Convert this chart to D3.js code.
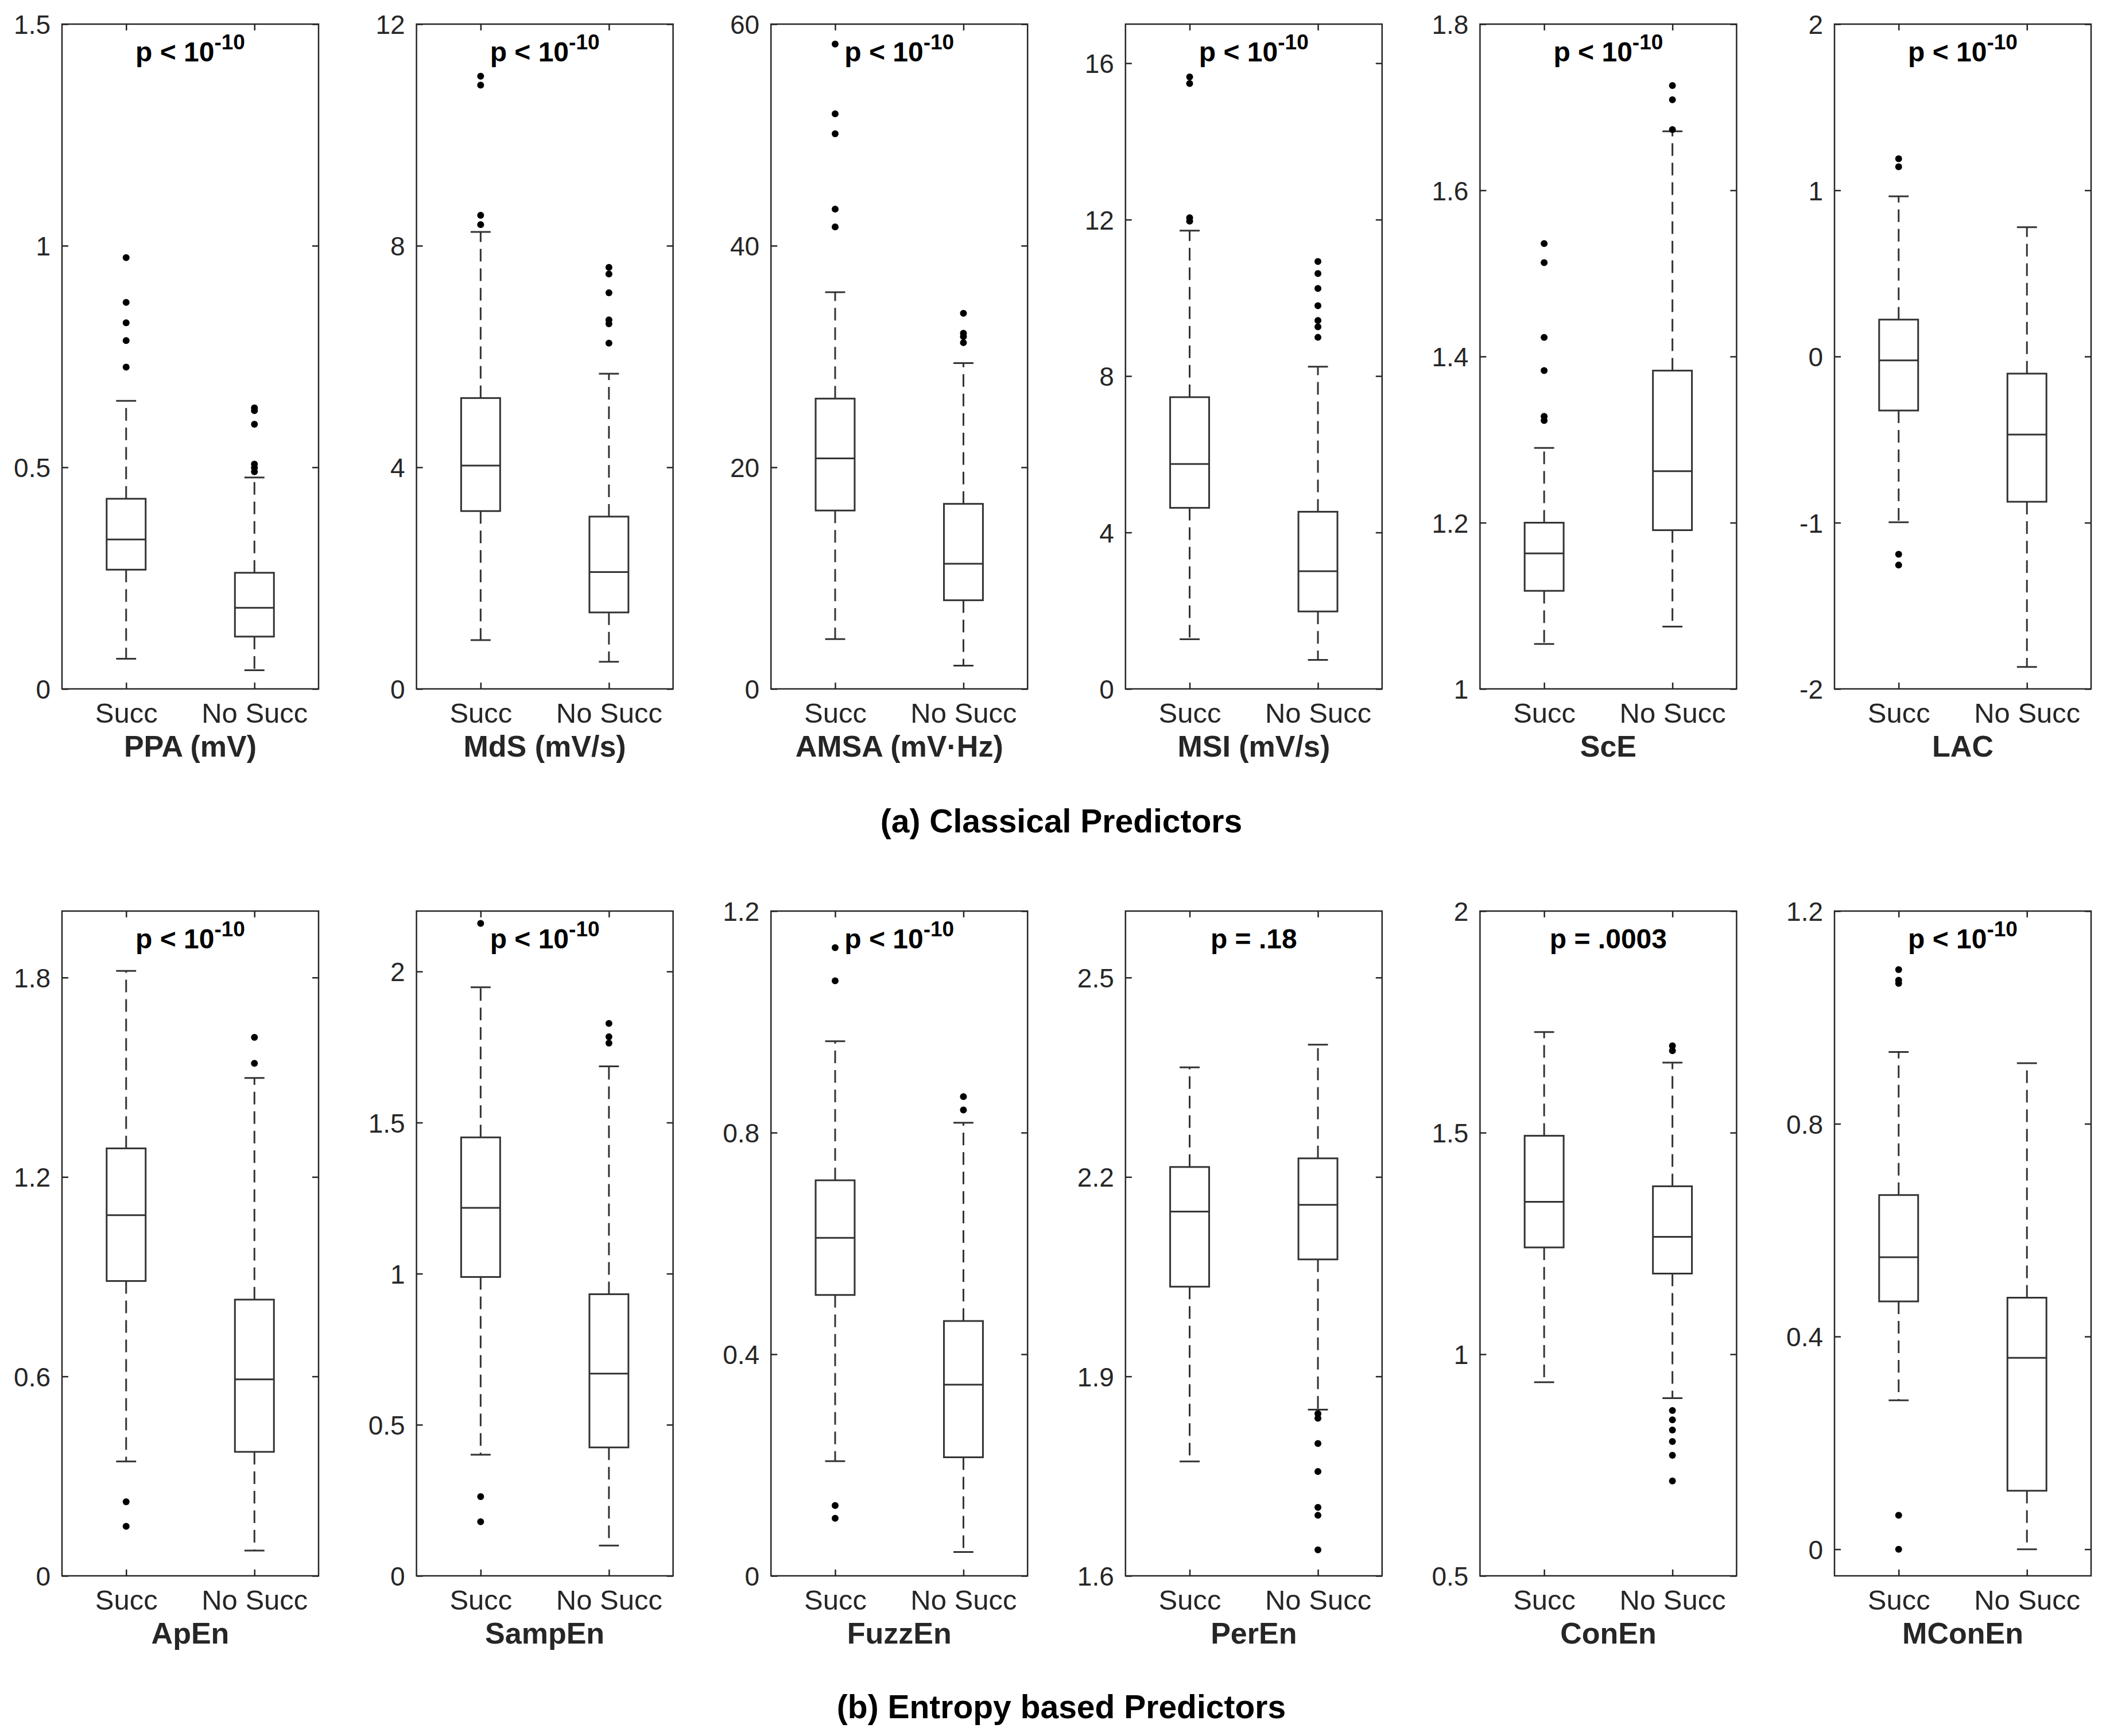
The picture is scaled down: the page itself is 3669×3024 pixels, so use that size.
<!DOCTYPE html>
<html>
<head>
<meta charset="utf-8">
<script src="https://cdn.jsdelivr.net/npm/d3@7"></script>
<style>
  body { margin: 0; background: #fff; }
  svg { display: block; font-family: "Liberation Sans", Arial, Helvetica, sans-serif; }
</style>
</head>
<body>
<div id="chart"></div>
<script>
// --- data ---
var predictors = ["PPA (mV)", "MdS (mV/s)", "AMSA (mV\u00b7Hz)", "MSI (mV/s)", "ScE", "LAC",
                  "ApEn", "SampEn", "FuzzEn", "PerEn", "ConEn", "MConEn"];
var groups = ["Succ", "No Succ"];
var sections = ["(a) Classical Predictors", "(b) Entropy based Predictors"];

var pMain = ["p < 10", "p < 10", "p < 10", "p < 10", "p < 10", "p < 10",
             "p < 10", "p < 10", "p < 10", "p = .18", "p = .0003", "p < 10"];
var pSup  = ["-10", "-10", "-10", "-10", "-10", "-10",
             "-10", "-10", "-10", "", "", "-10"];

var yDomains = [[0, 1.5], [0, 12], [0, 60], [0, 17], [1, 1.8], [-2, 2],
                [0, 2], [0, 2.2], [0, 1.2], [1.6, 2.6], [0.5, 2], [-0.05, 1.2]];
var yTicks = [[0, 0.5, 1, 1.5], [0, 4, 8, 12], [0, 20, 40, 60], [0, 4, 8, 12, 16],
              [1, 1.2, 1.4, 1.6, 1.8], [-2, -1, 0, 1, 2],
              [0, 0.6, 1.2, 1.8], [0, 0.5, 1, 1.5, 2], [0, 0.4, 0.8, 1.2],
              [1.6, 1.9, 2.2, 2.5], [0.5, 1, 1.5, 2], [0, 0.4, 0.8, 1.2]];

// [Succ, No Succ] for each predictor
var lowerWhisker = [[0.068, 0.042], [0.88, 0.49], [4.5, 2.1], [1.27, 0.74], [1.054, 1.075], [-0.997, -1.868],
                    [0.344, 0.076], [0.401, 0.100], [0.207, 0.043], [1.772, 1.850], [0.937, 0.901], [0.280, 0.0]];
var q1 = [[0.269, 0.118], [3.21, 1.38], [16.1, 8.0], [4.63, 1.98], [1.118, 1.191], [-0.325, -0.874],
          [0.887, 0.373], [0.989, 0.425], [0.507, 0.214], [2.035, 2.076], [1.241, 1.182], [0.466, 0.110]];
var medians = [[0.337, 0.183], [4.03, 2.11], [20.8, 11.3], [5.75, 3.01], [1.163, 1.262], [-0.023, -0.47],
               [1.085, 0.591], [1.218, 0.669], [0.610, 0.345], [2.148, 2.158], [1.344, 1.265], [0.549, 0.360]];
var q3 = [[0.429, 0.262], [5.25, 3.11], [26.2, 16.7], [7.46, 4.53], [1.200, 1.383], [0.222, -0.103],
          [1.286, 0.831], [1.451, 0.932], [0.714, 0.460], [2.215, 2.228], [1.493, 1.379], [0.666, 0.473]];
var upperWhisker = [[0.650, 0.477], [8.25, 5.69], [35.8, 29.4], [11.72, 8.24], [1.290, 1.671], [0.964, 0.778],
                    [1.820, 1.498], [1.948, 1.686], [0.965, 0.818], [2.365, 2.399], [1.727, 1.658], [0.935, 0.914]];
var outliers = [
  [[0.973, 0.872, 0.826, 0.786, 0.726], [0.634, 0.628, 0.597, 0.507, 0.499, 0.490]],
  [[11.06, 10.9, 8.55, 8.38], [7.61, 7.49, 7.15, 6.66, 6.59, 6.24]],
  [[58.2, 51.9, 50.1, 43.3, 41.7], [33.9, 32.1, 31.8, 31.25]],
  [[15.65, 15.48, 12.05, 11.96], [10.93, 10.62, 10.24, 9.80, 9.42, 9.26, 8.99]],
  [[1.536, 1.513, 1.423, 1.383, 1.328, 1.323], [1.726, 1.709, 1.673]],
  [[1.19, 1.142, -1.19, -1.255], []],
  [[0.223, 0.149], [1.620, 1.542]],
  [[2.159, 0.262, 0.179], [1.828, 1.784, 1.763]],
  [[1.134, 1.074, 0.127, 0.104], [0.865, 0.841]],
  [[], [1.844, 1.837, 1.799, 1.757, 1.703, 1.691, 1.639]],
  [[], [1.696, 1.685, 0.873, 0.852, 0.829, 0.803, 0.772, 0.714]],
  [[1.090, 1.070, 1.064, 0.064, 0.0], []]
];

// --- layout ---
var W = 3669, H = 3024;
var panelW = 447, panelH = 1158;
var left0 = 108, step = 617.6;
var rowTop = [42, 1587];
var axisColor = "#262626";
var boxHalf = 0.152, capHalf = 0.078;

var svg = d3.select("#chart").append("svg")
    .attr("width", W)
    .attr("height", H);

svg.append("rect").attr("width", W).attr("height", H).attr("fill", "#fff");

var x = d3.scaleLinear().domain([0.5, 2.5]).range([0, panelW]);

predictors.forEach(function(name, i) {
  var row = Math.floor(i / 6), col = i % 6;
  var g = svg.append("g")
      .attr("transform", "translate(" + (left0 + col * step) + "," + rowTop[row] + ")");

  var y = d3.scaleLinear().domain(yDomains[i]).range([panelH, 0]);
  var fmt = function(d) { return String(d); };

  // axes with inward ticks
  var yl = g.append("g").call(d3.axisLeft(y).tickValues(yTicks[i]).tickFormat(fmt)
      .tickSizeInner(-11).tickSizeOuter(0).tickPadding(20));
  var yr = g.append("g").attr("transform", "translate(" + panelW + ",0)")
      .call(d3.axisRight(y).tickValues(yTicks[i]).tickFormat("").tickSizeInner(-11).tickSizeOuter(0));
  var xb = g.append("g").attr("transform", "translate(0," + panelH + ")")
      .call(d3.axisBottom(x).tickValues([1, 2]).tickFormat(function(d) { return groups[d - 1]; })
      .tickSizeInner(-11).tickSizeOuter(0).tickPadding(24));
  var xt = g.append("g")
      .call(d3.axisTop(x).tickValues([1, 2]).tickFormat("").tickSizeInner(-11).tickSizeOuter(0));

  [yl, yr, xb, xt].forEach(function(a) {
    a.select(".domain").remove();
    a.selectAll("line").attr("stroke", axisColor).attr("stroke-width", 2.5);
  });
  yl.selectAll("text").attr("dy", "0.36em").style("font-size", "46px").attr("fill", axisColor);
  xb.selectAll("text").style("font-size", "49px").attr("fill", axisColor);

  g.append("rect")
      .attr("width", panelW).attr("height", panelH)
      .attr("fill", "none").attr("stroke", axisColor).attr("stroke-width", 2.5);

  // boxes
  groups.forEach(function(grp, j) {
    var cx = x(j + 1);
    var bw = x(1 + boxHalf) - x(1), cw = x(1 + capHalf) - x(1);
    var b = g.append("g").attr("stroke", "#333").attr("stroke-width", 3).attr("fill", "none");

    b.append("line").attr("x1", cx).attr("x2", cx)
        .attr("y1", y(q3[i][j])).attr("y2", y(upperWhisker[i][j]))
        .attr("stroke-dasharray", "22,12");
    b.append("line").attr("x1", cx).attr("x2", cx)
        .attr("y1", y(q1[i][j])).attr("y2", y(lowerWhisker[i][j]))
        .attr("stroke-dasharray", "22,12");
    [upperWhisker[i][j], lowerWhisker[i][j]].forEach(function(v) {
      b.append("line").attr("x1", cx - cw).attr("x2", cx + cw)
          .attr("y1", y(v)).attr("y2", y(v));
    });
    b.append("rect")
        .attr("x", cx - bw).attr("width", 2 * bw)
        .attr("y", y(q3[i][j])).attr("height", y(q1[i][j]) - y(q3[i][j]));
    b.append("line").attr("x1", cx - bw).attr("x2", cx + bw)
        .attr("y1", y(medians[i][j])).attr("y2", y(medians[i][j]));

    g.selectAll(null)
        .data(outliers[i][j])
        .enter().append("circle")
        .attr("cx", cx)
        .attr("cy", function(d) { return y(d); })
        .attr("r", 6)
        .attr("fill", "#000");
  });

  // p-value label
  var pt = g.append("text")
      .attr("x", panelW / 2).attr("y", 65)
      .attr("text-anchor", "middle")
      .style("font-size", "48px").style("font-weight", 700)
      .attr("fill", "#000");
  pt.append("tspan").text(pMain[i]);
  if (pSup[i]) {
    pt.append("tspan").attr("dy", -21).style("font-size", "37px").text(pSup[i]);
  }

  // predictor name
  g.append("text")
      .attr("x", panelW / 2).attr("y", panelH + 118)
      .attr("text-anchor", "middle")
      .style("font-size", "52px").style("font-weight", 700)
      .attr("fill", axisColor)
      .text(name);
});

// section captions
var captionY = [1450, 2993];
sections.forEach(function(s, k) {
  svg.append("text")
      .attr("x", 1849).attr("y", captionY[k])
      .attr("text-anchor", "middle")
      .style("font-size", "57px").style("font-weight", 700)
      .attr("fill", "#000")
      .text(s);
});
</script>
</body>
</html>
